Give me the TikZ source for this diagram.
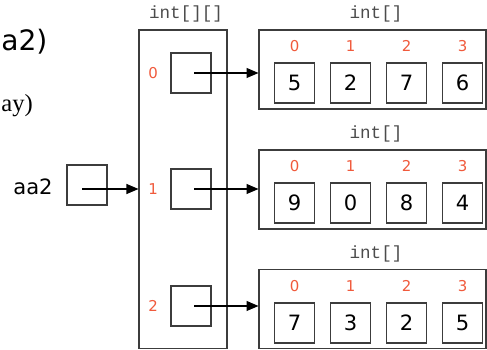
\documentclass[tikz,border=0pt]{standalone}
\usepackage{fontspec}
\usepackage{xcolor}
\usepackage{tikz}
\usetikzlibrary{arrows.meta}
\setmainfont{Liberation Serif}
\setsansfont{DejaVu Sans}
\setmonofont{Liberation Mono}

\definecolor{idxred}{RGB}{240,90,60}
\definecolor{boxgray}{RGB}{60,60,60}

\tikzset{
    cellbox/.style={draw=boxgray, line width=0.6pt, minimum width=0.8cm, minimum height=0.8cm, inner sep=0pt, font=\sffamily\fontsize{12}{12}\selectfont},
    idx/.style={text=idxred, font=\sffamily\fontsize{8.5}{8.5}\selectfont},
    typelbl/.style={text=black!70, font=\ttfamily\fontsize{10}{10}\selectfont},
    ptr/.style={draw=black, line width=0.6pt, -{Triangle[length=2.4mm,width=2mm]}}
}

\begin{document}
\begin{tikzpicture}[x=0.02cm, y=-0.02cm]
    \useasboundingbox (0,0) rectangle (487,350);

    % cut-off title text at the left edge
    \node[anchor=west, inner sep=0pt, font=\sffamily\fontsize{16}{16}\selectfont] (title) at (1,42) {a2)};
    \node[anchor=west, inner sep=0pt, font=\fontsize{14}{14}\selectfont] (subtitle) at (1,106) {ay)};

    % the variable aa2
    \node[font=\sffamily\fontsize{12}{12}\selectfont] (aa2lbl) at (33,187) {aa2};
    \node[cellbox] (aa2) at (87,185) {};
    \coordinate (aa2ptr) at (82,189);

    % outer array int[][]
    \node[draw=boxgray, line width=0.6pt, minimum width=1.76cm, minimum height=6.38cm, inner sep=0pt] (outer) at (183,189.5) {};
    \node[typelbl] (outertype) at (186,14) {int[][]};

    % inner arrays int[]
    \foreach \r/\yc/\yr in {0/69.5/73, 1/189.5/189, 2/309/306} {
        \node[cellbox] (ref\r) at (191,\yr) {};
        \node[idx] (ridx\r) at (153,\yr) {\r};
        \node[draw=boxgray, line width=0.6pt, minimum width=4.54cm, minimum height=1.58cm, inner sep=0pt] (arr\r) at (372.5,\yc) {};
        \node[typelbl] (type\r) at (376,\yc-55.5) {int[]};
        \coordinate (ptr\r) at (194,\yr);
    }

    % cells with values
    \foreach \v [count=\i from 0] in {5,2,7,6} {
        \node[cellbox] (c0\i) at (294.5+56*\i,83) {\v};
        \node[idx] (i0\i) at (294.5+56*\i,46) {\i};
    }
    \foreach \v [count=\i from 0] in {9,0,8,4} {
        \node[cellbox] (c1\i) at (294.5+56*\i,203) {\v};
        \node[idx] (i1\i) at (294.5+56*\i,166) {\i};
    }
    \foreach \v [count=\i from 0] in {7,3,2,5} {
        \node[cellbox] (c2\i) at (294.5+56*\i,323) {\v};
        \node[idx] (i2\i) at (294.5+56*\i,286) {\i};
    }

    % references
    \draw[ptr] (aa2ptr) -- (aa2ptr -| outer.west);
    \foreach \r in {0,1,2} {
        \draw[ptr] (ptr\r) -- (ptr\r -| arr\r.west);
    }

\end{tikzpicture}
\end{document}
